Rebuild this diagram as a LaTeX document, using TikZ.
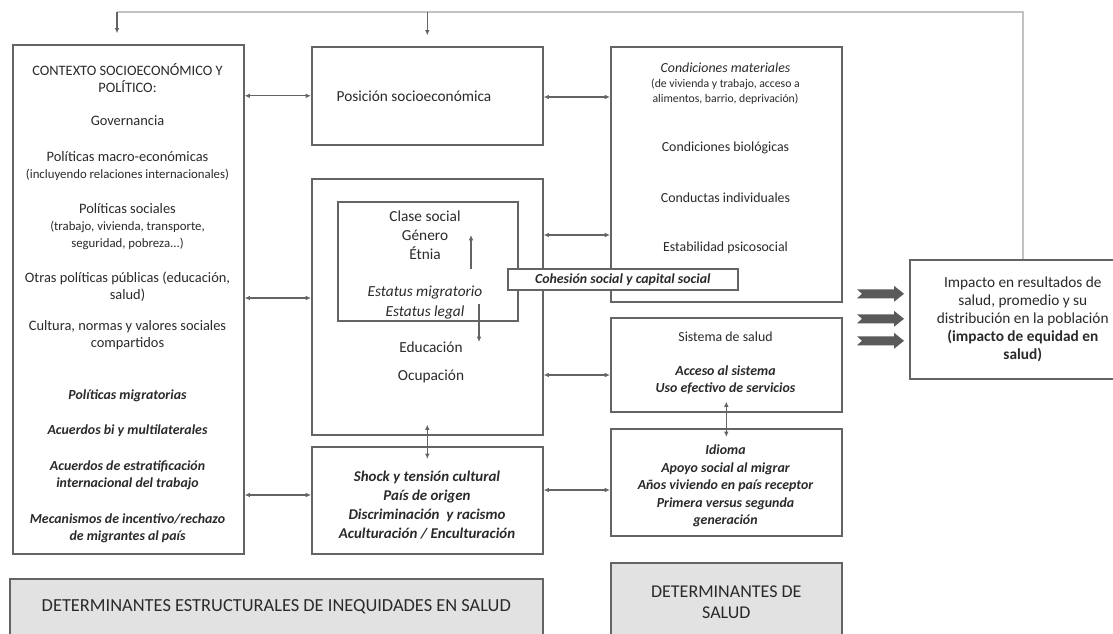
\documentclass[tikz,border=0pt]{standalone}
\usepackage{fontspec}
\setmainfont{Carlito}
\usepackage{xcolor}
\definecolor{bordegris}{HTML}{646464}
\definecolor{textogris}{HTML}{2A2A2A}
\definecolor{fondogris}{HTML}{E2E2E2}
\definecolor{flechagris}{HTML}{5A5A5A}
\definecolor{retrogris}{HTML}{C2C2C2}
\usepackage{tikz}
\usetikzlibrary{calc, arrows.meta}

\begin{document}
\begin{tikzpicture}[
  x=0.75pt, y=-0.75pt,
  caja/.style 2 args={draw=bordegris, line width=1.2pt, fill=white, text=textogris,
    minimum width=#1*0.75pt, minimum height=#2*0.75pt, anchor=north west,
    inner sep=0pt, align=center},
  txt/.style={align=center, text=textogris, inner sep=0pt},
  izq/.style={txt, font=\fontsize{10.8}{13}\selectfont},
  der/.style={txt, font=\fontsize{10.4}{13}\selectfont},
  flecha/.style={draw=bordegris, line width=0.9pt, -{Latex[length=4pt,width=3.5pt]}},
  dflecha/.style={draw=bordegris, line width=0.9pt,
    {Latex[length=4pt,width=3.5pt]}-{Latex[length=4pt,width=3.5pt]}}
]

% marco de la figura (px de la imagen)
\fill[white] (0,0) rectangle (1113,633);
\useasboundingbox (0,0) rectangle (1113,633);
\clip (0,0) rectangle (1113,633);

% cajas
\node[caja={231}{509}] (contexto) at (12,44) {};
\node[caja={231}{98}] (posicion) at (311,46) {};
\node[caja={231}{256}] (estratif) at (311,178) {};
\node[caja={180}{119}] (socialbox) at (337,201) {};
\node[caja={231}{107}] (shock) at (311,446) {};
\node[caja={231}{255}] (condiciones) at (610,46) {};
\node[caja={231}{94}] (sistema) at (610,317) {};
\node[caja={231}{107}] (idioma) at (610,428) {};
\node[caja={226}{119}, font=\fontsize{11.5}{13.5}\selectfont] (impacto) at (909,259)
  {Impacto en resultados de\\salud, promedio y su\\distribución en la población\\
   \textbf{(impacto de equidad en}\\\textbf{salud)}};
\node[caja={533}{56}, fill=fondogris, font=\fontsize{13.8}{16}\selectfont] (estructurales) at (9,578)
  {DETERMINANTES ESTRUCTURALES DE INEQUIDADES EN SALUD};
\node[caja={231}{79}, fill=fondogris, font=\fontsize{13.5}{15.75}\selectfont] (determinantes) at (610,562)
  {DETERMINANTES DE\\SALUD};

% contexto socioeconomico y politico
\node[izq] (ctxtitulo) at (127.5,78) {CONTEXTO SOCIOECONÓMICO Y\\POLÍTICO:};
\node[izq] (gobernanza) at (127.5,121) {Governancia};
\node[izq] (macro) at (127.5,166) {Políticas macro-económicas\\{\fontsize{9.6}{13}\selectfont(incluyendo relaciones internacionales)}};
\node[izq] (sociales) at (127.5,226.5) {Políticas sociales\\{\fontsize{9.6}{13}\selectfont(trabajo, vivienda, transporte,}\\{\fontsize{9.6}{13}\selectfont seguridad, pobreza...)}};
\node[izq] (otras) at (127.5,287) {Otras políticas públicas (educación,\\salud)};
\node[izq] (cultura) at (127.5,335) {Cultura, normas y valores sociales\\compartidos};
\node[izq, font=\fontsize{10.4}{13}\selectfont\bfseries\itshape] (migratorias) at (127.5,396) {Políticas migratorias};
\node[izq, font=\fontsize{10.4}{13}\selectfont\bfseries\itshape] (acuerdos) at (127.5,431) {Acuerdos bi y multilaterales};
\node[izq, font=\fontsize{10.4}{13}\selectfont\bfseries\itshape] (estratific) at (127.5,475) {Acuerdos de estratificación\\internacional del trabajo};
\node[izq, font=\fontsize{10.4}{13}\selectfont\bfseries\itshape] (mecanismos) at (127.5,528) {Mecanismos de incentivo/rechazo\\de migrantes al país};

% posicion social
\node[txt, font=\fontsize{11.5}{14}\selectfont] (posiciontxt) at (414,96) {Posición socioeconómica};
\node[txt, font=\fontsize{11.5}{14.25}\selectfont] (clase) at (425,235) {Clase social\\Género\\Étnia};
\node[txt, font=\fontsize{11.5}{15}\selectfont\itshape] (estatus) at (425,303) {Estatus migratorio\\Estatus legal};
\node[txt, font=\fontsize{11.5}{21}\selectfont] (educacion) at (431,362) {Educación\\Ocupación};
\coordinate (subeini) at (471,269);
\coordinate (subefin) at (471,235);
\coordinate (bajaini) at (479,304);
\coordinate (bajafin) at (479,342);
\draw[flecha] (subeini) -- (subefin);
\draw[flecha] (bajaini) -- (bajafin);

\node[txt, font=\fontsize{11.2}{14.25}\selectfont\bfseries\itshape] (shocktxt) at (427,505.5)
  {Shock y tensión cultural\\País de origen\\Discriminación~ y racismo\\Aculturación / Enculturación};

% determinantes intermedios
\node[txt, font=\fontsize{8.8}{11.2}\selectfont] (materiales) at (725.5,84)
  {{\fontsize{10.4}{11.2}\selectfont\itshape Condiciones materiales}\\(de vivienda y trabajo, acceso a\\alimentos, barrio, deprivación)};
\node[der] (biologicas) at (725.5,148) {Condiciones biológicas};
\node[der] (conductas) at (725.5,198) {Conductas individuales};
\node[der] (psicosocial) at (725.5,248) {Estabilidad psicosocial};
\node[txt, font=\fontsize{10.4}{12.75}\selectfont] (sistematxt) at (725.5,362.5)
  {Sistema de salud\\[12.75pt]\textbf{\textit{Acceso al sistema}}\\\textbf{\textit{Uso efectivo de servicios}}};
\node[txt, font=\fontsize{10.4}{13.1}\selectfont\bfseries\itshape] (idiomatxt) at (725.5,486)
  {Idioma\\Apoyo social al migrar\\Años viviendo en país receptor\\Primera versus segunda\\generación};

% conectores
\draw[dflecha] (contexto.east |- posicion.west) -- (posicion.west);
\draw[dflecha] (contexto.east |- 0,298) -- (estratif.west |- 0,298);
\draw[dflecha] (contexto.east |- 0,495) -- (shock.west |- 0,495);
\draw[dflecha] (posicion.east |- 0,97) -- (condiciones.west |- 0,97);
\draw[dflecha] (estratif.east |- 0,235) -- (condiciones.west |- 0,235);
\draw[dflecha] (estratif.east |- 0,375) -- (sistema.west |- 0,375);
\draw[dflecha] (shock.east |- 0,490) -- (idioma.west |- 0,490);
\draw[dflecha] ([yshift=8.25pt]estratif.south) -- ([yshift=-9.75pt]shock.north);
\draw[dflecha] ([yshift=8.25pt]sistema.south) -- ([yshift=-6.75pt]idioma.north);

% retroalimentacion
\coordinate (retroizq) at (117,12);
\draw[retrogris, line width=1.2pt] (impacto.north) |- (retroizq);
\draw[flecha, shorten >=8pt] (retroizq) -- (retroizq |- contexto.north);
\draw[flecha, shorten >=8pt] (posicion.north |- retroizq) -- (posicion.north);

% flechas gruesas hacia el impacto
\foreach \dy in {-25.5,-0.5,21.5}
  \fill[flechagris] ($(impacto.west)+(-5,\dy)$) -- ++(-10,-8) -- ++(0,3.5) -- ++(-37,0)
    -- ++(5,4.5) -- ++(-5,4.5) -- ++(37,0) -- ++(0,3.5) -- cycle;

% cohesion social (encima de las cajas)
\node[caja={230}{21}, font=\fontsize{10.4}{12}\selectfont\bfseries\itshape] (cohesion) at (507,268)
  {Cohesión social y capital social};

\end{tikzpicture}
\end{document}
